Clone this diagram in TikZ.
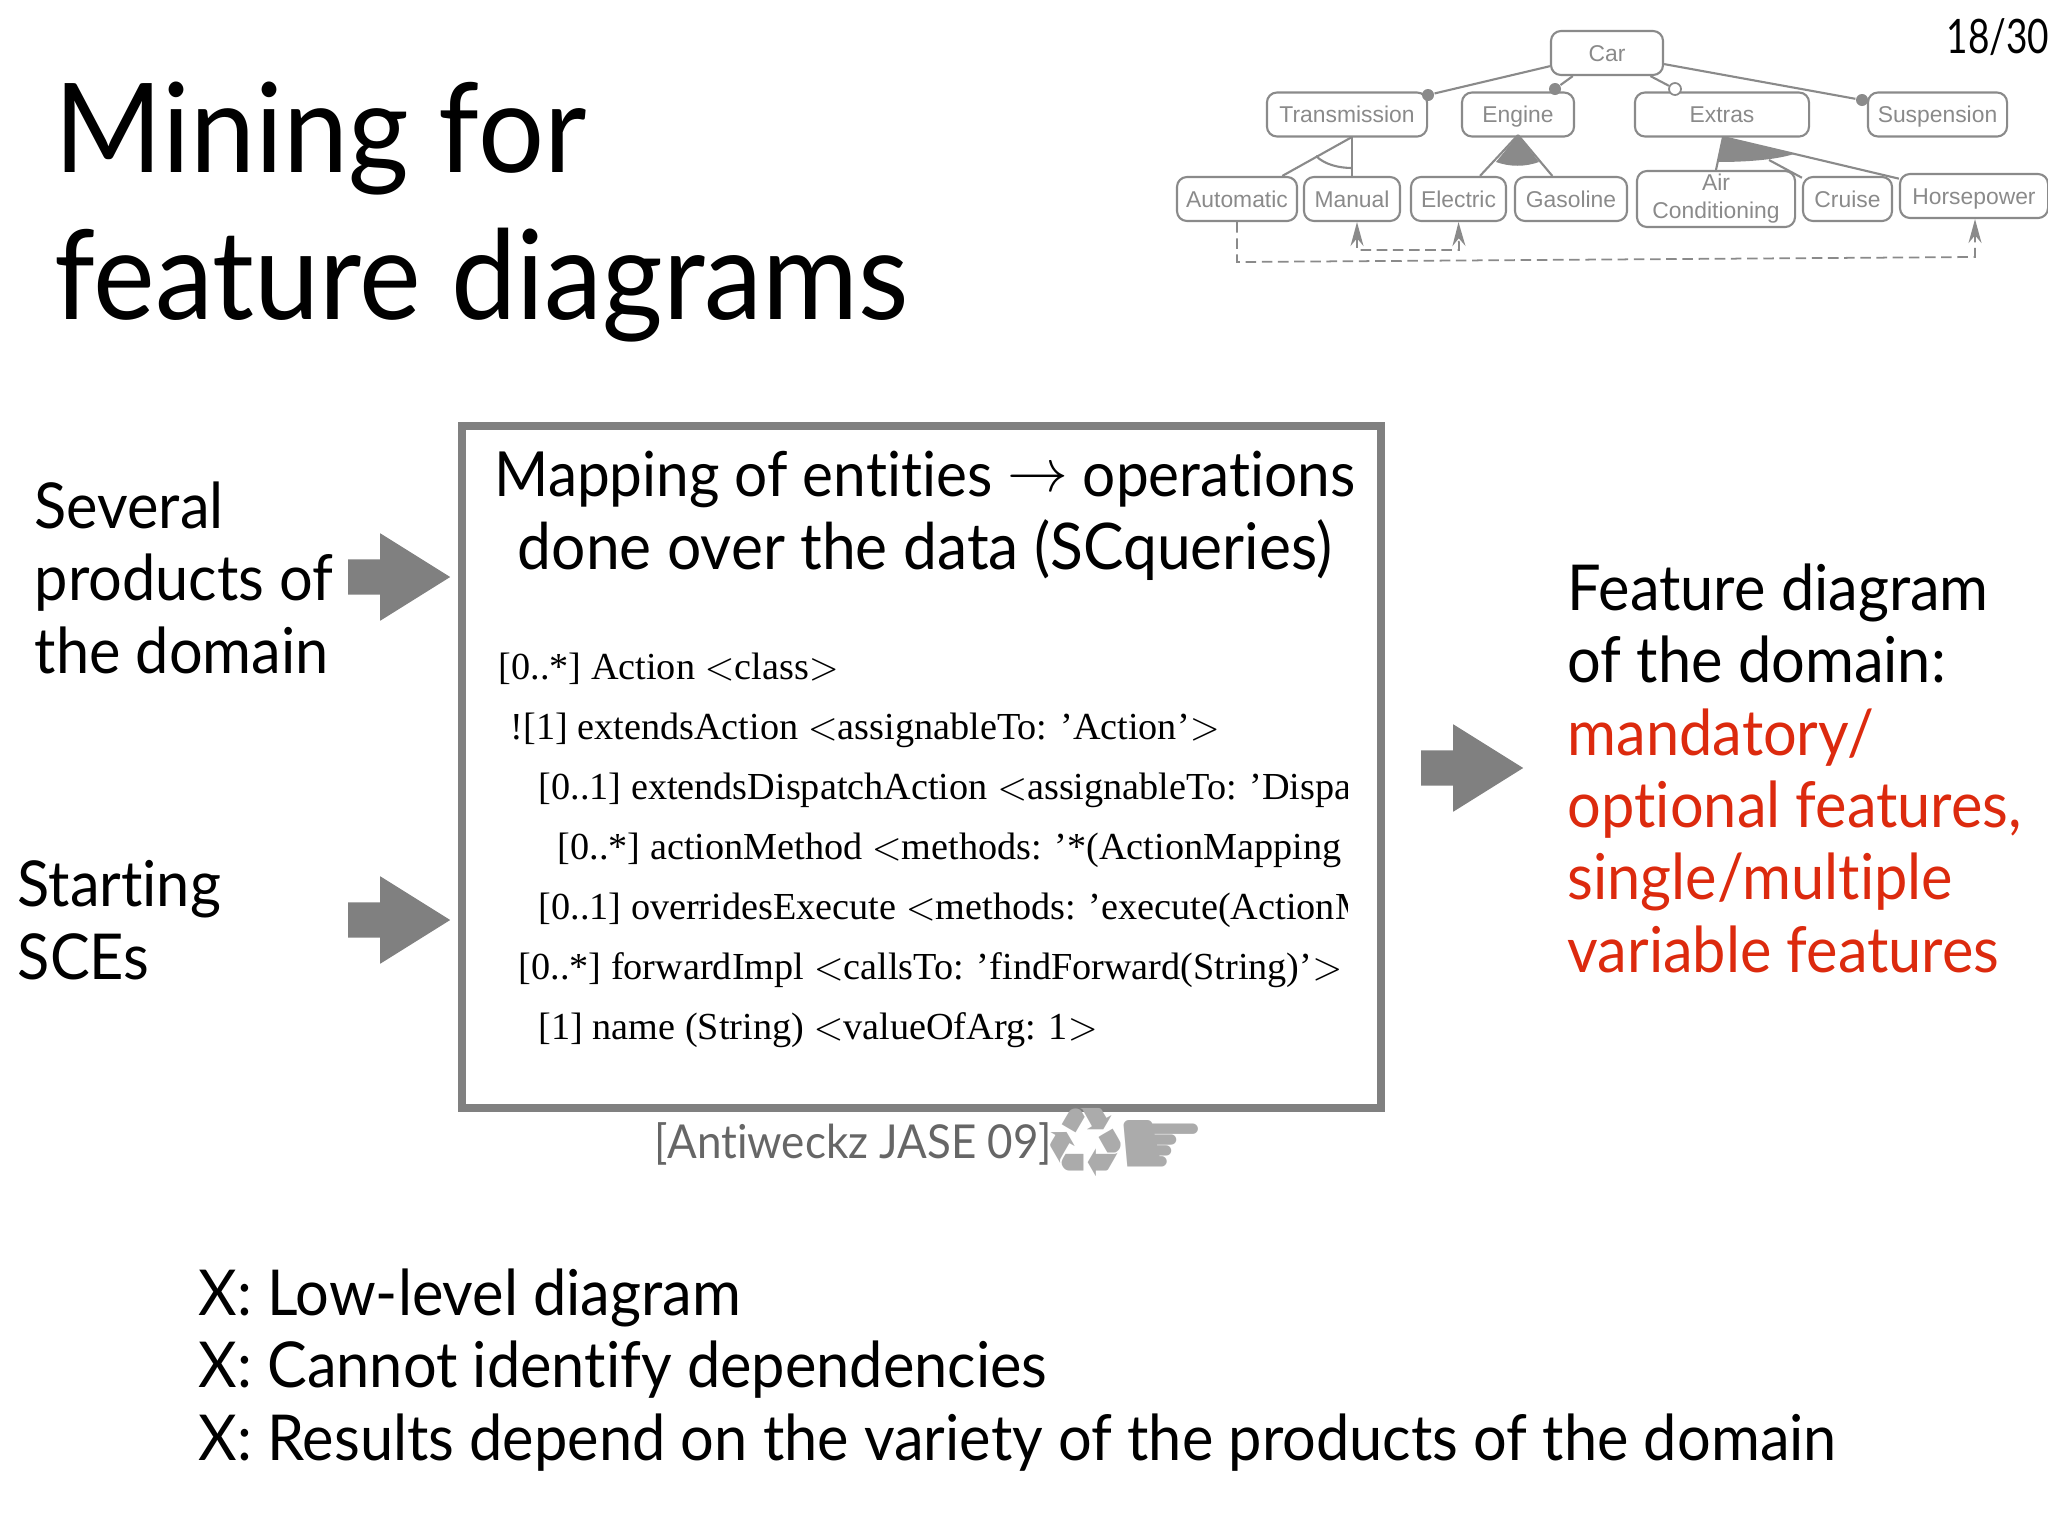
\documentclass[tikz,border=0pt]{standalone}
\usepackage{fontspec}
\usepackage{amsmath}
\setmainfont{Lato}[FakeStretch=0.94,Ligatures=NoCommon]
\newfontfamily\pagefont{Lato}[FakeStretch=0.78]
\newfontfamily\codefont{Liberation Serif}
\newfontfamily\featfont{Liberation Sans}
\newfontfamily\symfont{DejaVu Sans}
\usetikzlibrary{arrows.meta}
\usetikzlibrary{shapes.arrows}
\definecolor{boxgray}{HTML}{808080}
\definecolor{featgray}{HTML}{8A8A8A}
\definecolor{citegray}{HTML}{666666}
\definecolor{symgray}{HTML}{ABABAB}
\definecolor{redtext}{HTML}{DC2A0E}
\newcommand{\ltsym}{$<$}
\newcommand{\gtsym}{$>$}
\tikzset{
  feat/.style={draw=featgray, line width=0.6pt, rounded corners=0.1cm, inner sep=0pt, minimum height=0.44cm, align=center, text=featgray, text height=0.21cm, text depth=0.05cm, font=\featfont\fontsize{6.5}{8}\selectfont},
  featline/.style={draw=featgray, line width=0.6pt},
  featdash/.style={draw=featgray, line width=0.5pt, dash pattern=on 3pt off 1.6pt, >={Stealth[length=0.24cm,width=0.13cm]}},
  featdot/.style={circle, fill=featgray, inner sep=0pt, minimum size=0.12cm},
  title/.style={anchor=base west, inner sep=0pt, align=left, font=\fontsize{35.3}{41.8}\selectfont},
  body/.style={anchor=base west, inner sep=0pt, align=left, font=\fontsize{18}{20.55}\selectfont},
  code/.style={anchor=base west, inner sep=0pt, font=\codefont\fontsize{10.87}{12}\selectfont},
  bigarrow/.style={single arrow, fill=boxgray, inner sep=0pt, text height=0.34cm, text depth=0pt, minimum height=1.02cm, single arrow head extend=0.26cm, single arrow head indent=0pt, single arrow tip angle=64}
}

\begin{document}
\begin{tikzpicture}[x=0.01cm,y=-0.01cm]
\useasboundingbox (0,0) rectangle (2048,1536);

\node (Title) [title] at (54,319) {Mining for\\feature diagrams};
\node (Page) [anchor=base west, inner sep=0pt, font=\pagefont\fontsize{13.5}{16}\selectfont] at (1946,53) {18/30};

% feature model
\node (Car) [feat, minimum width=1.12cm] at (1607,53) {Car};
\node (Transmission) [feat, minimum width=1.6cm] at (1347,114.5) {Transmission};
\node (Engine) [feat, minimum width=1.12cm] at (1518,114.5) {Engine};
\node (Extras) [feat, minimum width=1.74cm] at (1722,114.5) {Extras};
\node (Suspension) [feat, minimum width=1.39cm] at (1937.5,114.5) {Suspension};
\node (Automatic) [feat, minimum width=1.2cm] at (1237,199) {Automatic};
\node (Manual) [feat, minimum width=0.96cm] at (1352,199) {Manual};
\node (Electric) [feat, minimum width=0.95cm] at (1458.5,199) {Electric};
\node (Gasoline) [feat, minimum width=1.12cm] at (1571,199) {Gasoline};
\node (Air) [feat, minimum width=1.58cm, minimum height=0.56cm, text height=, text depth=] at (1716,199) {Air\\Conditioning};
\node (Cruise) [feat, minimum width=0.89cm] at (1847.5,199) {Cruise};
\node (Horsepower) [feat, minimum width=1.48cm] at (1974,196) {Horsepower};

\node (DotT) [featdot] at (1428,95) {};
\node (DotE) [featdot] at (1555,89) {};
\node (DotX) [featdot, fill=white, draw=featgray, line width=0.5pt] at (1675,89) {};
\node (DotS) [featdot] at (1862,100) {};
\coordinate (ApexT) at (1352,137);
\coordinate (ApexE) at (1518,135);
\coordinate (ApexX) at (1723,137);
\coordinate (CruiseOut) at (1769,160);
\coordinate (DashA) at (1238,262);
\coordinate (DashB) at (1975,257);
\coordinate (DashC) at (1357,250);
\coordinate (DashD) at (1459,250);

%
\draw [featline] (Car.193) -- (DotT);
\draw [featline] (Car.214) -- (DotE);
\draw [featline] (Car.-28) -- (DotX);
\draw [featline] (Car.-11) -- (DotS);
\draw [featline] (ApexT) -- (Automatic.27);
\draw [featline] (ApexT) -- (Manual.north);
\draw [featline] (1316,156) .. controls (1325,165) and (1340,168) .. (1352,168);
\draw [featline] (ApexE) -- (Electric.47);
\draw [featline] (ApexE) -- (Gasoline.129);
\fill [featgray] (ApexE) -- (1496,162) .. controls (1510,167) and (1525,167) .. (1539,162) -- cycle;
\draw [featline] (ApexX) -- (Air.north);
\draw [featline] (CruiseOut) -- (Cruise.155);
\draw [featline] (ApexX) -- (Horsepower.167);
\fill [featgray] (ApexX) -- (1718,162) .. controls (1745,162) and (1775,160) .. (1794,154) -- cycle;
\draw [featdash,->] (Automatic.south) -- (Automatic.south |- DashA) -- (DashB) -- (DashB |- Horsepower.south);
\draw [featdash,<->] (DashC |- Manual.south) -- (DashC) -- (DashD) -- (Electric.south);

% main box
\node (Box) [draw=boxgray, line width=0.08cm, minimum width=9.19cm, minimum height=6.82cm, inner sep=0pt] at (921.5,767) {};
\node (Heading) [anchor=base, inner sep=0pt, align=center, font=\fontsize{17.7}{20.55}\selectfont] at (925,569) {Mapping of entities \raisebox{1.5pt}{$\rightarrow$} operations\\\fontsize{18.3}{20.55}\selectfont done over the data (SCqueries)};
\begin{scope}
\clip (470,630) rectangle (1347,1090);
\node (LineA) [code] at (498,679) {[0..*] Action \ltsym class\gtsym};
\node (LineB) [code] at (510,739) {![1] extendsAction \ltsym assignableTo: ’Action’\gtsym};
\node (LineC) [code] at (538,799) {[0..1] extendsDispatchAction \ltsym assignableTo: ’Dispa};
\node (LineD) [code] at (557,859) {[0..*] actionMethod \ltsym methods: ’*(ActionMapping};
\node (LineE) [code] at (538,919) {[0..1] overridesExecute \ltsym methods: ’execute(ActionM};
\node (LineF) [code] at (518,979) {[0..*] forwardImpl \ltsym callsTo: ’findForward(String)’\gtsym};
\node (LineG) [code] at (538,1039) {[1] name (String) \ltsym valueOfArg: 1\gtsym};
\end{scope}

% side texts and arrows
\node (Products) [body] at (34,673) {Several\\products of\\the domain};
\node (Starting) [body] at (17,979) {Starting\\SCEs};
\node (Result) [body] at (1567,972) {Feature diagram\\of the domain:\\\textcolor{redtext}{mandatory/}\\\textcolor{redtext}{optional features,}\\\textcolor{redtext}{single/multiple}\\\textcolor{redtext}{variable features}};
\node (ArrowA) [bigarrow] at (385,577) {};
\node (ArrowB) [bigarrow] at (385,920) {};
\node (ArrowC) [bigarrow] at (1458,768) {};

% citation
\node (Cite) [anchor=base west, inner sep=0pt, text=citegray, font=\fontsize{13.3}{16}\selectfont] at (654,1158) {[Antiweckz JASE 09]};
\node (Recycle) [inner sep=0pt, text=symgray, font=\symfont\fontsize{27.5}{30}\selectfont] at (1086,1142) {♻};
\node (Hand) [inner sep=0pt, text=symgray, font=\symfont\fontsize{29}{30}\selectfont] at (1161,1149) {☛};

% problems
\node (Problems) [body] at (198,1460) {X: Low-level diagram\\X: Cannot identify dependencies\\X: Results depend on the variety of the products of the domain};
\end{tikzpicture}
\end{document}
